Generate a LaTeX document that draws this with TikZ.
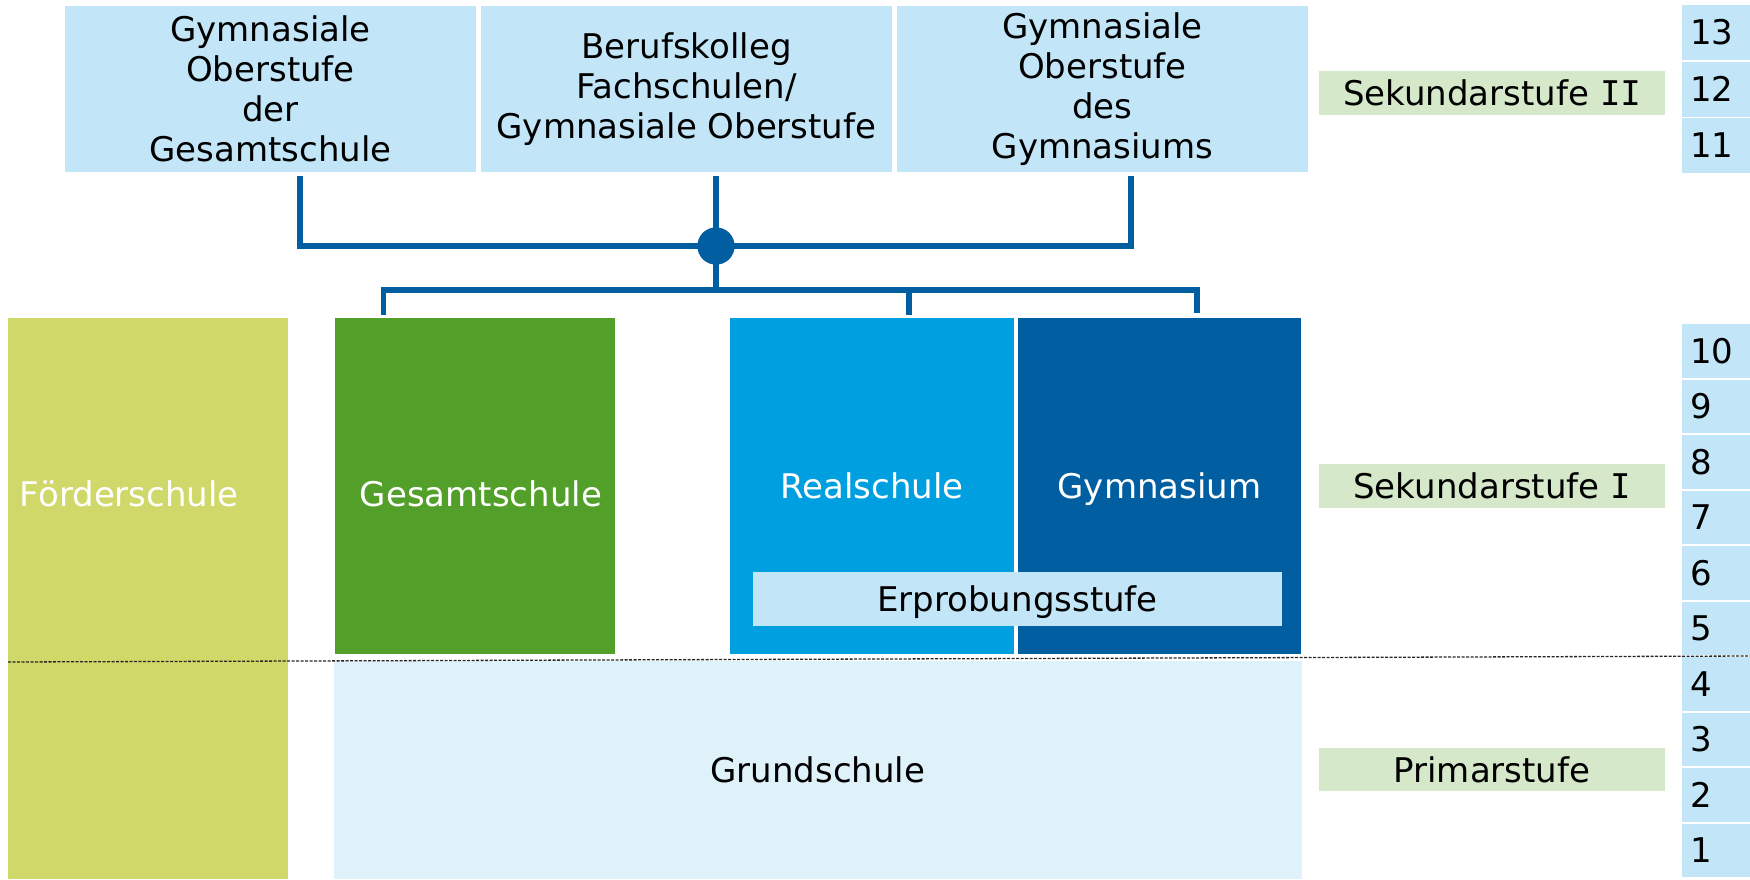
\documentclass[tikz,border=0pt]{standalone}
\usepackage{fontspec}
\setmainfont{DejaVu Sans}
\newfontfamily\slabfont{DejaVu Sans Mono}
\definecolor{topblue}{HTML}{C2E6F7}
\definecolor{paleblue}{HTML}{DFF1F9}
\definecolor{foerdercol}{HTML}{CFD869}
\definecolor{gesamtcol}{HTML}{52A02A}
\definecolor{realcol}{HTML}{009FDF}
\definecolor{gymcol}{HTML}{005EA1}
\definecolor{stufecol}{HTML}{D5E8CA}
\begin{document}
\begin{tikzpicture}[x=1pt,y=-1pt,
  bx/.style={inner sep=0pt,outer sep=0pt,anchor=north west},
  big/.style={font=\fontsize{34}{39.8}\selectfont},
  one/.style={big,text height=25.8pt,text depth=0pt},
  conn/.style={draw=gymcol,line width=5.5pt},
  dashline/.style={draw=black!85,line width=1.3pt,dash pattern=on 3pt off 1.5pt},
  grade/.style={bx,fill=topblue,text width=52pt,inner xsep=8pt,inner ysep=0pt,align=left,one,text height=24.8pt},
]
\useasboundingbox (0,0) rectangle (1750,879);

% upper level boxes
\node[bx,big,fill=topblue,minimum width=411pt,minimum height=166pt,align=center] (ob1) at (65,6) {Gymnasiale\\Oberstufe\\der\\Gesamtschule};
\node[bx,big,fill=topblue,minimum width=411pt,minimum height=166pt,align=center] (ob2) at (481,6) {Berufskolleg\\Fachschulen/\\Gymnasiale Oberstufe};
\node[bx,big,fill=topblue,minimum width=411pt,minimum height=166pt,align=center] (ob3) at (897,6) {Gymnasiale\\Oberstufe\\des\\Gymnasiums};

% secondary I boxes
\node[bx,fill=foerdercol,minimum width=280pt,minimum height=561pt] (foerder) at (8,318) {};
\node[big,text=white,anchor=base west,inner sep=0pt] (foerdert) at (19.7,506.7) {Förderschule};
\node[bx,fill=gesamtcol,minimum width=280pt,minimum height=336pt] (gesamt) at (335,318) {};
\node[big,text=white,anchor=base,inner sep=0pt] (gesamtt) at (481,506.7) {Gesamtschule};
\node[bx,one,fill=realcol,text=white,minimum width=284pt,minimum height=336pt] (real) at (730,318) {Realschule};
\node[bx,one,fill=gymcol,text=white,minimum width=283pt,minimum height=336pt] (gymn) at (1018,318) {Gymnasium};
\node[bx,one,fill=topblue,minimum width=529pt,minimum height=54pt] (erprob) at (753,572) {Erprobungsstufe};

% primary
\node[bx,one,fill=paleblue,minimum width=968.5pt,minimum height=218pt] (grund) at (333.5,661) {Grundschule};

% stage labels
\node[bx,one,fill=stufecol,minimum width=346pt,minimum height=44pt] (sek2) at (1319,71) {Sekundarstufe {\slabfont I}{\slabfont I}};
\node[bx,one,fill=stufecol,minimum width=346pt,minimum height=43.5pt] (sek1) at (1319,464) {Sekundarstufe {\slabfont I}};
\node[bx,one,fill=stufecol,minimum width=346pt,minimum height=43pt] (prim) at (1319,748) {Primarstufe};

% grades
\node[grade,minimum height=55pt] (g13) at (1682,5) {13};
\node[grade,minimum height=55pt] (g12) at (1682,61.5) {12};
\node[grade,minimum height=55pt] (g11) at (1682,118) {11};
\foreach \n/\i in {10/0,9/1,8/2,7/3,6/4,5/5,4/6,3/7,2/8,1/9}{
  \node[grade,minimum height=53.5pt] (g\n) at (1682,{324+55.5*\i}) {\n};
}

% connectors
\node[circle,fill=gymcol,minimum size=37pt,inner sep=0pt,outer sep=0pt] (hub) at (716,246) {};
\coordinate (t1) at (300,176);
\coordinate (t2) at (716,176);
\coordinate (t3) at (1131,176);
\coordinate (e1) at (383.5,290);
\coordinate (e2) at (716,290);
\coordinate (e3) at (1197,290);
\coordinate (f2) at (909,290);
\coordinate (d1) at (383.5,315);
\coordinate (d2) at (909,315);
\coordinate (d3) at (1197,313);
\draw[conn] (t1) |- (hub.center);
\draw[conn] (t3) |- (hub.center);
\draw[conn] (t2) -- (hub.center);
\draw[conn] (hub.center) -- (e2);
\draw[conn] (d1) -- (e1) -- (e3) -- (d3);
\draw[conn] (f2) -- (d2);
\node[circle,fill=gymcol,minimum size=37pt,inner sep=0pt,outer sep=0pt] at (hub.center) {};

% dashed boundary between primary and secondary
\coordinate (dl) at (8,662);
\coordinate (dr) at (1750,656);
\draw[dashline] (dl) -- (dr);
\end{tikzpicture}
\end{document}
